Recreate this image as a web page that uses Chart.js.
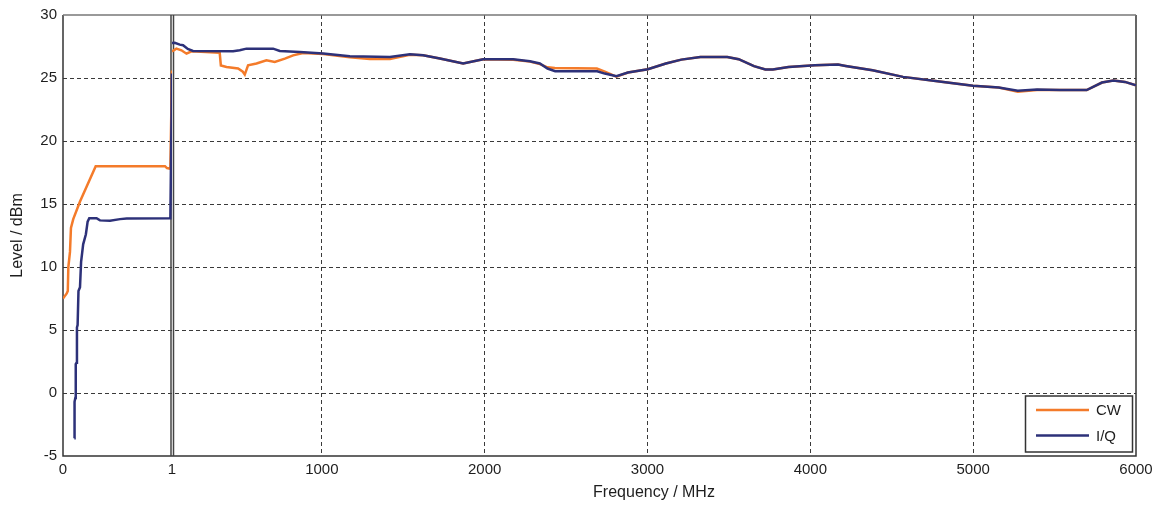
<!DOCTYPE html>
<html>
<head>
<meta charset="utf-8">
<script src="https://cdn.jsdelivr.net/npm/chart.js@4.4.1/dist/chart.umd.min.js"></script>
<style>
  html, body { margin: 0; padding: 0; background: #fff; }
  #wrap { position: relative; width: 1162px; height: 509px; }
</style>
</head>
<body>
<div id="wrap"><canvas id="chart"></canvas></div>
<script>
// Level vs. frequency, two panels: 0..1 MHz and 80..6000 MHz

const seriesNames = ['CW', 'I/Q'];
const seriesColors = ['#F47B2A', '#2D3179'];

const lowTicks = [0, 1];
const freqTicks = [1000, 2000, 3000, 4000, 5000, 6000];
const levelTicks = [-5, 0, 5, 10, 15, 20, 25, 30];

// low band (MHz)
const lowCwFreq = [0, 0.034, 0.044, 0.049, 0.064, 0.073, 0.094, 0.156, 0.30, 0.936, 0.954, 0.985, 1.0];
const lowCwLevel = [7.5, 7.9, 8.1, 10.0, 11.2, 13.1, 13.8, 15.2, 18.0, 18.0, 17.85, 17.8, 25.6];

const lowIqFreq = [0.104, 0.106, 0.113, 0.117, 0.124, 0.128, 0.134, 0.142, 0.156, 0.166, 0.185,
  0.21, 0.226, 0.241, 0.308, 0.339, 0.431, 0.523, 0.584, 0.985, 1.0];
const lowIqLevel = [-3.6, -0.7, -0.4, 2.3, 2.4, 5.2, 5.4, 8.1, 8.4, 10.4, 11.8,
  12.6, 13.6, 13.87, 13.87, 13.7, 13.67, 13.8, 13.84, 13.87, 25.35];

// high band (MHz)
const hiCwFreq = [80, 107, 138, 169, 200, 373, 380, 415, 486, 515, 527, 547, 599, 660, 711, 773, 824, 885,
  1008, 1172, 1295, 1418, 1541, 1622, 1725, 1868, 1991, 2175, 2278, 2339, 2386, 2431, 2689, 2738, 2809, 2880,
  3002, 3113, 3208, 3325, 3490, 3560, 3654, 3724, 3770, 3866, 4028, 4170, 4217, 4382, 4569, 4805, 4999, 5157,
  5274, 5392, 5533, 5697, 5791, 5861, 5932, 6000];
const hiCwLevel = [27.1, 27.33, 27.2, 26.93, 27.12, 27.0, 26.0, 25.88, 25.75, 25.5, 25.27, 26.0, 26.15, 26.41, 26.28, 26.54, 26.8, 26.99,
  26.9, 26.65, 26.5, 26.5, 26.85, 26.8, 26.54, 26.15, 26.49, 26.45, 26.3, 26.1, 25.85, 25.8, 25.75, 25.5, 25.1, 25.43,
  25.7, 26.15, 26.46, 26.67, 26.67, 26.49, 25.94, 25.67, 25.67, 25.88, 26.02, 26.07, 25.96, 25.62, 25.09, 24.7, 24.38, 24.25,
  23.9, 24.05, 24.04, 24.04, 24.64, 24.8, 24.69, 24.43];

const hiIqFreq = [80, 97, 128, 148, 177, 209, 455, 496, 537, 701, 742, 865,
  1008, 1172, 1418, 1541, 1622, 1725, 1868, 1991, 2175, 2278, 2339, 2386,
  2433, 2691, 2738, 2809, 2880, 3002, 3113, 3208, 3325, 3490, 3560, 3654,
  3724, 3770, 3866, 4028, 4170, 4217, 4382, 4569, 4805, 4999, 5157, 5274,
  5392, 5533, 5697, 5791, 5861, 5932, 6000];
const hiIqLevel = [27.78, 27.8, 27.65, 27.6, 27.3, 27.15, 27.12, 27.2, 27.33, 27.33, 27.15, 27.07,
  26.94, 26.73, 26.67, 26.89, 26.8, 26.54, 26.15, 26.49, 26.49, 26.33, 26.15, 25.75,
  25.54, 25.54, 25.35, 25.14, 25.43, 25.70, 26.15, 26.46, 26.67, 26.67, 26.49, 25.94,
  25.67, 25.67, 25.88, 26.02, 26.07, 25.96, 25.62, 25.09, 24.7, 24.38, 24.25, 23.98,
  24.09, 24.04, 24.04, 24.64, 24.8, 24.69, 24.43];

const FONT = "'Liberation Sans', Arial, sans-serif";
const TEXT = '#1e1e1e';
const GRID = '#3a3a3a';

function toPoints(xs, ys) {
  return xs.map((x, i) => ({ x, y: ys[i] }));
}

function line(label, color, axis, xs, ys) {
  return {
    label,
    data: toPoints(xs, ys),
    xAxisID: axis,
    yAxisID: 'y',
    borderColor: color,
    backgroundColor: color,
    borderWidth: 2.5,
    pointRadius: 0,
    tension: 0,
    fill: false,
  };
}

// frame + the double line at the axis break
const framePlugin = {
  id: 'frame',
  beforeDatasetsDraw(chart) {
    const { ctx, chartArea: a } = chart;
    const brk = chart.scales.xLow.right;
    ctx.save();
    ctx.lineWidth = 1.5;
    ctx.strokeStyle = '#333';
    ctx.beginPath();
    ctx.moveTo(a.left, a.top); ctx.lineTo(a.left, a.bottom);
    ctx.lineTo(a.right, a.bottom); ctx.lineTo(a.right, a.top);
    ctx.stroke();
    ctx.strokeStyle = '#777';
    ctx.beginPath();
    ctx.moveTo(a.left, a.top); ctx.lineTo(a.right, a.top);
    ctx.stroke();
    ctx.strokeStyle = '#444';
    ctx.beginPath();
    ctx.moveTo(brk - 1, a.top); ctx.lineTo(brk - 1, a.bottom);
    ctx.moveTo(brk + 1.5, a.top); ctx.lineTo(brk + 1.5, a.bottom);
    ctx.stroke();
    ctx.restore();
  },
};

// boxed legend in the lower-right corner of the plot
const legendPlugin = {
  id: 'boxLegend',
  afterDatasetsDraw(chart) {
    const { ctx, chartArea: a } = chart;
    const w = 107, h = 56;
    const x0 = a.right - 3.5 - w, y0 = a.bottom - 4 - h;
    ctx.save();
    ctx.fillStyle = '#fff';
    ctx.fillRect(x0, y0, w, h);
    ctx.strokeStyle = '#333';
    ctx.lineWidth = 1.5;
    ctx.strokeRect(x0, y0, w, h);
    ctx.font = `15px ${FONT}`;
    ctx.textBaseline = 'middle';
    seriesNames.forEach((name, i) => {
      const yy = y0 + 14 + i * 25.5;
      ctx.strokeStyle = seriesColors[i];
      ctx.lineWidth = 2.5;
      ctx.beginPath();
      ctx.moveTo(x0 + 10.5, yy);
      ctx.lineTo(x0 + 63.5, yy);
      ctx.stroke();
      ctx.fillStyle = TEXT;
      ctx.fillText(name, x0 + 70.5, yy + 1);
    });
    ctx.restore();
  },
};

const tickFont = { family: FONT, size: 15 };
const titleFont = { family: FONT, size: 16 };
const plain = (v) => String(v);

new Chart(document.getElementById('chart'), {
  type: 'line',
  data: {
    datasets: [
      line('I/Q', seriesColors[1], 'xLow', lowIqFreq, lowIqLevel),
      line('I/Q', seriesColors[1], 'xHigh', hiIqFreq, hiIqLevel),
      line('CW', seriesColors[0], 'xLow', lowCwFreq, lowCwLevel),
      line('CW', seriesColors[0], 'xHigh', hiCwFreq, hiCwLevel),
    ],
  },
  options: {
    responsive: true,
    maintainAspectRatio: false,
    animation: false,
    devicePixelRatio: 1,
    layout: { padding: { left: 0, top: 13, right: 26, bottom: 0 } },
    plugins: {
      legend: { display: false },
      tooltip: { enabled: false },
    },
    scales: {
      xLow: {
        type: 'linear',
        position: 'bottom',
        stack: 'freq',
        stackWeight: 109,
        min: 0,
        max: 1,
        afterBuildTicks: (s) => { s.ticks = lowTicks.map((v) => ({ value: v })); },
        afterFit: (s) => { s.height = 53; },
        grid: { display: false, drawTicks: false },
        border: { display: false },
        ticks: { autoSkip: false, maxRotation: 0, padding: 5, color: TEXT, font: tickFont, callback: plain },
      },
      xHigh: {
        type: 'linear',
        position: 'bottom',
        stack: 'freq',
        stackWeight: 964,
        min: 80,
        max: 6000,
        afterBuildTicks: (s) => { s.ticks = freqTicks.map((v) => ({ value: v })); },
        afterFit: (s) => { s.height = 53; },
        grid: {
          drawTicks: false,
          lineWidth: 1,
          color: (c) => (c.tick && c.tick.value === 6000 ? 'rgba(0,0,0,0)' : GRID),
        },
        border: { display: false, dash: [4, 3] },
        ticks: { autoSkip: false, maxRotation: 0, padding: 5, color: TEXT, font: tickFont, callback: plain },
        title: { display: true, text: 'Frequency / MHz', color: TEXT, font: titleFont, padding: { top: 0, bottom: 7 } },
      },
      y: {
        type: 'linear',
        min: -5,
        max: 30,
        afterBuildTicks: (s) => { s.ticks = levelTicks.map((v) => ({ value: v })); },
        afterFit: (s) => { s.width = 63; },
        grid: {
          drawTicks: false,
          lineWidth: 1,
          color: (c) => (c.tick && (c.tick.value === -5 || c.tick.value === 30) ? 'rgba(0,0,0,0)' : GRID),
        },
        border: { display: false, dash: [4, 3] },
        ticks: { padding: 6, color: TEXT, font: tickFont, callback: plain },
        title: { display: true, text: 'Level / dBm', color: TEXT, font: titleFont, padding: { top: 8, bottom: 0 } },
      },
    },
  },
  plugins: [framePlugin, legendPlugin],
});
</script>
</body>
</html>
